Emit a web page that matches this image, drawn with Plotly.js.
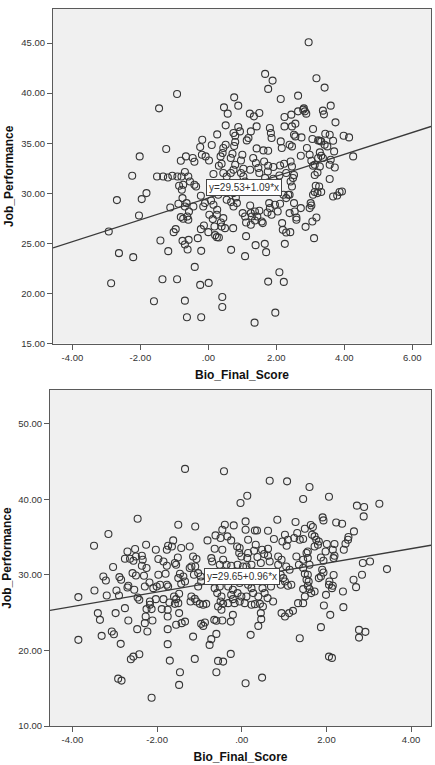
<!DOCTYPE html>
<html>
<head>
<meta charset="utf-8">
<script src="https://cdn.plot.ly/plotly-3.0.1.min.js"></script>
<style>
  html, body { margin: 0; padding: 0; background: #ffffff; }
  #chart { width: 435px; height: 765px; }
</style>
</head>
<body>
<div id="chart"></div>
<script>
// ---- Upper panel: Bio_Final_Score vs Job_Performance ----
const topX = [
  -0.92,-1.45,-1.24,-2.02,-0.81,-2.24,-1.51,-1.33,-1.19,-1.06,-0.91,-0.79,-0.86,-1.82,-2.69,-1.96,-0.76,-1.12,-0.88,-2.04,
  -0.81,-2.93,-0.96,-1.02,-1.41,-0.76,-2.63,-2.21,-1.18,-2.86,-1.35,-0.92,-1.60,-0.69,-0.61,-0.58,-0.69,-0.63,-0.24,-0.21,
  -0.40,-0.21,-0.22,-0.13,0.00,0.01,0.20,0.25,0.31,0.18,0.37,0.49,0.73,0.41,0.41,0.67,1.08,1.11,1.11,1.37,
  1.39,1.36,1.60,1.66,1.70,1.76,1.97,2.09,2.17,2.19,2.22,2.25,2.41,2.59,2.86,3.06,3.11,
  1.67,1.89,1.76,2.13,0.76,0.46,0.88,0.57,1.22,1.34,1.50,2.24,0.51,1.42,0.88,0.93,1.81,1.84,1.86,2.24,
  0.74,0.79,1.25,0.26,-0.18,-0.24,0.10,1.18,1.13,0.44,0.51,0.79,0.76,1.42,1.62,1.76,2.13,2.16,-0.19,-0.08,
  0.02,-0.66,-0.46,-0.41,0.42,0.36,0.71,0.66,1.00,0.96,1.32,1.40,1.64,1.76,1.91,2.11,2.23,0.31,0.39,0.79,
  0.74,1.03,0.96,1.23,1.47,1.50,1.75,0.15,0.44,0.54,0.66,-0.69,-0.59,-0.54,-0.41,-0.36,2.09,1.91,2.29,1.67,
  1.70,1.03,1.08,-0.74,-0.78,0.74,0.81,0.29,-0.22,-0.64,-0.69,-0.44,-0.57,-0.62,-0.74,-0.59,-0.15,-0.10,0.08,0.15,
  0.26,0.25,0.54,0.67,0.84,0.74,1.01,1.08,1.23,1.25,1.28,1.37,1.44,1.50,1.57,1.79,1.81,1.74,1.86,1.96,
  2.04,2.11,2.21,2.29,2.35,0.03,0.13,0.44,0.39,1.25,2.29,-0.31,
  2.95,3.18,3.42,2.64,3.60,3.37,3.40,2.81,2.79,2.84,2.88,2.64,2.44,2.56,2.46,3.74,3.08,2.52,2.56,2.74,
  3.06,3.23,3.28,3.32,3.44,3.57,3.67,3.98,4.14,2.39,2.46,3.42,3.50,2.90,3.28,3.32,3.23,3.37,3.70,2.98,
  2.72,4.26,3.03,3.13,3.08,3.60,3.57,3.72,2.42,2.46,3.28,3.21,3.13,2.52,2.49,3.57,2.46,2.42,3.16,3.26,
  3.13,3.21,3.32,3.08,3.67,3.79,3.86,3.93,2.39,2.52,2.54,2.39,2.59,2.72,3.01,3.03,2.98,3.18
];
const topY = [
  39.92,38.48,34.42,33.68,33.25,31.75,31.68,31.68,31.58,31.75,31.68,31.68,30.75,30.02,29.32,29.42,29.52,28.58,28.95,27.78,
  27.62,26.18,26.42,26.12,25.28,25.25,24.02,23.62,24.22,21.02,21.42,21.42,19.22,24.88,24.38,25.35,19.28,17.62,20.85,17.62,
  22.65,24.25,26.42,26.78,26.12,21.05,25.82,25.62,25.58,26.68,27.08,26.52,26.52,19.65,18.65,24.35,23.72,25.72,27.08,27.28,
  24.82,17.08,27.02,24.95,24.12,21.18,18.08,22.12,27.02,26.35,21.15,24.95,26.12,27.35,26.65,27.18,25.52,
  41.92,41.25,40.42,39.42,39.58,38.58,38.75,37.95,37.95,37.68,38.02,37.62,36.78,36.68,36.62,36.18,36.52,36.02,35.52,36.68,
  36.02,35.75,36.18,35.88,35.35,34.62,34.82,35.52,35.28,34.52,34.85,35.12,34.72,34.48,34.28,34.25,35.18,34.52,33.85,33.68,
  33.28,33.68,33.52,33.15,34.02,33.68,33.95,33.52,33.85,33.28,33.52,33.02,33.18,32.75,32.62,32.78,32.95,32.75,32.95,32.85,
  32.35,32.45,32.02,32.35,32.52,32.02,32.18,31.92,32.02,31.68,32.02,32.12,31.68,31.18,30.85,30.68,31.78,31.45,32.02,31.52,
  31.02,31.68,31.18,30.85,30.35,30.02,29.58,29.85,29.75,29.02,28.68,28.68,28.18,27.68,27.45,27.35,28.68,29.02,29.28,28.85,
  28.35,27.85,29.35,29.12,29.02,28.68,28.02,27.68,28.78,28.02,27.68,28.18,27.68,28.25,27.18,29.02,28.52,28.08,27.85,28.85,
  28.18,28.95,29.85,29.52,29.85,27.85,27.42,27.52,26.68,26.85,26.08,25.52,
  45.08,41.48,40.55,39.75,38.75,38.25,37.88,38.48,38.35,38.18,37.95,38.18,37.85,36.95,36.68,37.08,36.42,35.85,35.68,35.58,
  35.42,35.28,35.25,35.18,35.95,35.85,35.25,35.75,35.58,34.85,34.68,34.85,34.68,34.52,34.08,33.75,33.52,33.52,34.18,33.85,
  33.75,33.68,33.25,32.85,32.75,33.35,32.85,32.58,33.18,32.68,32.68,32.08,31.82,31.82,31.52,31.42,30.68,31.18,30.75,30.68,
  30.12,30.02,30.12,29.85,29.68,29.78,30.12,30.18,29.85,29.02,28.18,28.02,27.58,28.52,29.02,28.78,28.52,27.58
];
const topFit = { intercept: 29.53, slope: 1.09 };
const topXRange = [-4.57, 6.55];
const topYRange = [15, 48.4];
const topXTicks = [-4, -2, 0, 2, 4, 6];
const topXLabels = ['-4.00', '-2.00', '.00', '2.00', '4.00', '6.00'];
const topYTicks = [15, 20, 25, 30, 35, 40, 45];
const topYLabels = ['15.00', '20.00', '25.00', '30.00', '35.00', '40.00', '45.00'];

// ---- Lower panel ----
const botX = [
  -1.34,-2.46,-1.50,-3.15,-3.49,-1.62,-1.74,-1.65,-1.77,-2.26,-2.70,-2.52,-2.36,-2.50,-2.03,-1.43,-2.76,-2.64,-2.56,-2.34,
  -2.36,-2.25,-1.97,-1.85,-1.77,-1.51,-1.58,-1.55,-3.04,-3.27,-3.21,-2.89,-2.85,-2.58,-2.50,-2.31,-1.97,-1.80,-1.46,-1.38,
  -1.50,-1.34,-2.68,-2.70,-2.54,-3.48,-2.96,-2.90,-2.29,-2.18,-2.09,-2.01,-1.93,-1.77,-1.74,-1.43,-1.48,-3.86,-3.19,-2.46,
  -2.42,-2.17,-2.17,-2.13,-2.25,-2.03,-1.85,-1.71,-1.60,-1.55,-1.58,-1.50,-1.89,-1.75,-2.76,-3.40,-3.35,-2.98,-2.68,-2.27,
  -2.29,-2.11,-1.75,-1.48,-1.55,-1.42,-1.34,-2.47,-2.23,-1.75,-3.86,-3.31,-3.07,-3.02,-2.86,-1.75,-2.42,-2.56,-2.62,-1.70,
  -2.92,-2.84,-1.46,-1.48,-2.13,
  -0.42,0.66,1.07,0.13,-0.03,1.45,-1.10,-0.40,-0.46,-0.19,0.09,0.09,0.31,0.36,0.62,0.84,1.27,-0.62,-0.50,-0.34,
  -0.25,-0.81,-1.23,-0.64,-0.46,-0.11,-0.05,-0.06,-0.01,0.15,0.33,0.29,0.48,0.62,0.76,1.02,1.09,0.96,1.06,1.24,
  1.31,1.37,1.45,1.49,-1.15,-1.19,-1.10,-1.07,-0.72,-0.70,-0.44,-0.36,-0.52,0.15,0.13,0.23,0.11,0.37,0.45,0.53,
  0.62,0.66,0.86,0.94,0.86,1.05,1.13,1.29,1.35,1.45,1.45,1.53,-0.25,-0.10,0.03,-1.23,-1.13,-1.03,-0.97,-0.96,
  -1.03,0.92,0.98,1.02,0.92,1.09,1.17,1.49,1.53,-0.64,-0.52,-0.58,-0.48,-0.32,-0.21,-0.25,-0.05,-0.10,-0.01,0.15,
  0.23,0.27,0.11,0.39,0.49,0.54,0.61,0.74,0.69,-1.19,-1.11,-1.21,-1.07,-0.99,-0.91,-0.84,-0.50,-0.44,-0.56,-0.48,
  -0.32,-0.21,-0.17,-0.05,0.07,0.23,0.31,0.43,0.50,0.45,0.46,-0.21,-0.26,-0.46,-0.60,-0.65,-0.87,-0.96,-0.91,0.94,
  1.02,1.12,1.21,1.33,1.45,1.49,1.45,1.37,-1.15,-0.60,0.21,0.39,-0.72,-0.76,-0.26,-1.11,-0.56,-0.44,-0.60,0.09,
  0.48,
  1.60,2.06,2.72,2.89,3.25,2.88,1.91,1.93,2.23,2.37,1.63,1.68,2.65,1.66,1.72,1.76,1.82,1.80,1.72,2.52,
  2.51,2.45,2.41,2.01,2.19,2.15,2.19,2.17,1.98,1.87,1.93,1.56,1.56,1.60,2.86,3.03,3.43,1.90,1.93,1.87,
  1.82,2.17,2.84,2.64,2.70,1.56,1.58,1.56,1.60,1.72,1.64,2.07,2.06,2.15,2.13,2.39,1.99,1.94,2.40,2.09,
  1.87,2.77,2.92,2.77,2.06,2.13
];
const botY = [
  44.05,37.45,36.66,35.43,33.87,34.58,33.87,33.78,33.34,34.01,33.12,33.44,32.55,32.45,33.34,33.57,32.15,32.15,31.88,32.02,
  31.22,30.92,32.11,31.79,31.22,32.32,31.58,31.35,31.05,29.80,29.27,29.72,29.36,30.25,29.93,29.89,30.03,30.16,30.16,29.80,
  29.59,29.14,28.57,28.34,28.04,27.94,27.94,27.28,28.48,29.01,28.26,28.48,28.70,28.70,28.48,28.83,27.51,27.07,27.28,27.02,
  26.71,26.49,26.05,25.48,25.48,26.80,26.80,26.35,27.15,26.80,26.18,26.27,25.48,25.39,25.61,24.95,24.06,24.95,23.97,24.50,
  23.62,23.97,24.50,24.95,23.40,23.62,23.83,22.83,22.51,22.83,21.41,21.94,22.51,22.16,20.88,20.84,19.51,19.19,18.85,18.66,
  16.27,16.01,17.12,15.44,13.75,
  43.73,42.49,42.40,40.50,39.54,40.07,36.43,36.66,36.00,36.57,37.10,36.00,35.90,35.90,35.86,37.32,37.02,35.24,34.89,35.11,
  34.58,34.58,33.78,33.48,33.34,33.78,33.57,32.91,32.45,34.67,34.01,33.21,33.34,33.48,34.76,35.33,34.67,34.44,33.87,34.89,
  35.56,34.67,34.76,36.13,32.45,31.13,31.13,32.11,32.24,31.79,32.02,31.35,31.35,32.91,32.24,31.35,31.13,32.38,31.58,32.77,
  32.55,31.79,32.45,32.02,31.35,31.13,30.69,32.45,31.35,32.02,30.92,32.91,31.22,31.35,31.13,30.92,30.03,30.25,29.80,29.14,
  28.48,30.03,29.59,29.14,28.70,28.57,28.70,30.16,29.36,28.26,28.48,27.60,27.15,28.48,28.04,27.37,28.93,27.60,27.15,28.70,
  28.26,27.60,27.15,27.15,28.26,27.60,26.94,26.49,28.48,27.15,26.84,26.49,26.49,26.18,26.05,26.18,26.49,26.18,25.82,25.39,
  26.27,26.80,26.27,26.49,26.27,26.05,26.14,26.18,25.82,24.95,24.15,24.72,23.83,23.97,23.93,24.06,23.70,23.53,23.26,24.95,
  24.50,24.95,25.25,26.27,26.27,27.15,28.13,21.63,21.84,22.20,22.07,23.26,21.50,20.74,19.55,18.89,18.62,18.53,17.12,15.66,
  16.41,
  41.66,40.37,39.18,39.01,39.44,37.76,37.63,37.23,36.96,36.79,36.62,36.35,35.77,35.33,35.11,34.67,34.44,34.01,33.78,35.03,
  34.67,34.14,33.34,34.10,34.10,33.34,32.55,32.24,33.12,32.32,31.88,33.12,32.24,31.35,31.58,31.79,30.78,30.69,30.33,29.80,
  29.59,29.99,30.03,29.36,28.39,30.03,29.14,28.57,28.13,27.81,27.60,29.14,28.70,28.57,28.26,27.81,27.37,25.96,25.74,24.72,
  23.09,22.73,22.47,21.71,19.19,19.02
];
const botFit = { intercept: 29.65, slope: 0.96 };
const botXRange = [-4.53, 4.47];
const botYRange = [10, 54.5];
const botXTicks = [-4, -2, 0, 2, 4];
const botXLabels = ['-4.00', '-2.00', '.00', '2.00', '4.00'];
const botYTicks = [10, 20, 30, 40, 50];
const botYLabels = ['10.00', '20.00', '30.00', '40.00', '50.00'];

const xTitle = 'Bio_Final_Score';
const yTitle = 'Job_Performance';

// ---- shared styling ----
const FONT = 'Liberation Sans, Arial, sans-serif';
const INK = '#333333';
const FRAME = '#5a5a5a';

function scatter(xs, ys, xa, ya) {
  return {
    type: 'scatter', mode: 'markers', x: xs, y: ys, xaxis: xa, yaxis: ya,
    marker: { symbol: 'circle-open', size: 7, color: '#363636', line: { width: 1.1, color: '#363636' } },
    hoverinfo: 'skip', showlegend: false
  };
}

function fitLine(fit, range, xa, ya) {
  return {
    type: 'scatter', mode: 'lines', x: range, y: range.map(v => fit.intercept + fit.slope * v),
    xaxis: xa, yaxis: ya, line: { color: '#3a3a3a', width: 1.3 }, hoverinfo: 'skip', showlegend: false
  };
}

function xAxis(domain, range, vals, text, anchor) {
  return {
    domain, range, anchor, tickmode: 'array', tickvals: vals, ticktext: text,
    ticks: 'outside', ticklen: 5, tickcolor: FRAME, tickwidth: 1,
    showline: true, mirror: true, linecolor: FRAME, linewidth: 1,
    showgrid: false, zeroline: false, fixedrange: true,
    tickfont: { family: FONT, size: 9.5, color: INK },
    title: { text: '<b>' + xTitle + '</b>', font: { family: FONT, size: 12, color: '#111' }, standoff: 8 }
  };
}

function yAxis(domain, range, vals, text, anchor) {
  return {
    domain, range, anchor, tickmode: 'array', tickvals: vals, ticktext: text,
    ticks: 'outside', ticklen: 5, tickcolor: FRAME, tickwidth: 1,
    showline: true, mirror: true, linecolor: FRAME, linewidth: 1,
    showgrid: false, zeroline: false, fixedrange: true,
    tickfont: { family: FONT, size: 9.5, color: INK },
    title: { text: '<b>' + yTitle + '</b>', font: { family: FONT, size: 12, color: '#111' }, standoff: 5 }
  };
}

function eqLabel(fit, x, y, xref, yref) {
  return {
    xref, yref, x, y, xanchor: 'left', yanchor: 'middle', showarrow: false,
    text: 'y=' + fit.intercept.toFixed(2) + '+' + fit.slope.toFixed(2) + '*x',
    font: { family: FONT, size: 10, color: INK },
    bgcolor: '#ffffff', bordercolor: '#444444', borderwidth: 1, borderpad: 2
  };
}

const W = 435, H = 765;
const data = [
  scatter(topX, topY, 'x', 'y'),
  fitLine(topFit, topXRange, 'x', 'y'),
  scatter(botX, botY, 'x2', 'y2'),
  fitLine(botFit, botXRange, 'x2', 'y2')
];

const layout = {
  width: W, height: H,
  margin: { l: 0, r: 0, t: 0, b: 0 },
  paper_bgcolor: '#ffffff',
  plot_bgcolor: '#f0f0f0',
  font: { family: FONT, color: INK },
  xaxis: xAxis([53 / W, 431 / W], topXRange, topXTicks, topXLabels, 'y'),
  yaxis: yAxis([1 - 343.5 / H, 1 - 9 / H], topYRange, topYTicks, topYLabels, 'x'),
  xaxis2: xAxis([50 / W, 431 / W], botXRange, botXTicks, botXLabels, 'y2'),
  yaxis2: yAxis([1 - 726 / H, 1 - 390 / H], botYRange, botYTicks, botYLabels, 'x2'),
  annotations: [
    eqLabel(topFit, -0.08, 30.6, 'x', 'y'),
    eqLabel(botFit, -0.89, 29.76, 'x2', 'y2')
  ]
};

Plotly.newPlot('chart', data, layout, { staticPlot: true, displayModeBar: false });
</script>
</body>
</html>
